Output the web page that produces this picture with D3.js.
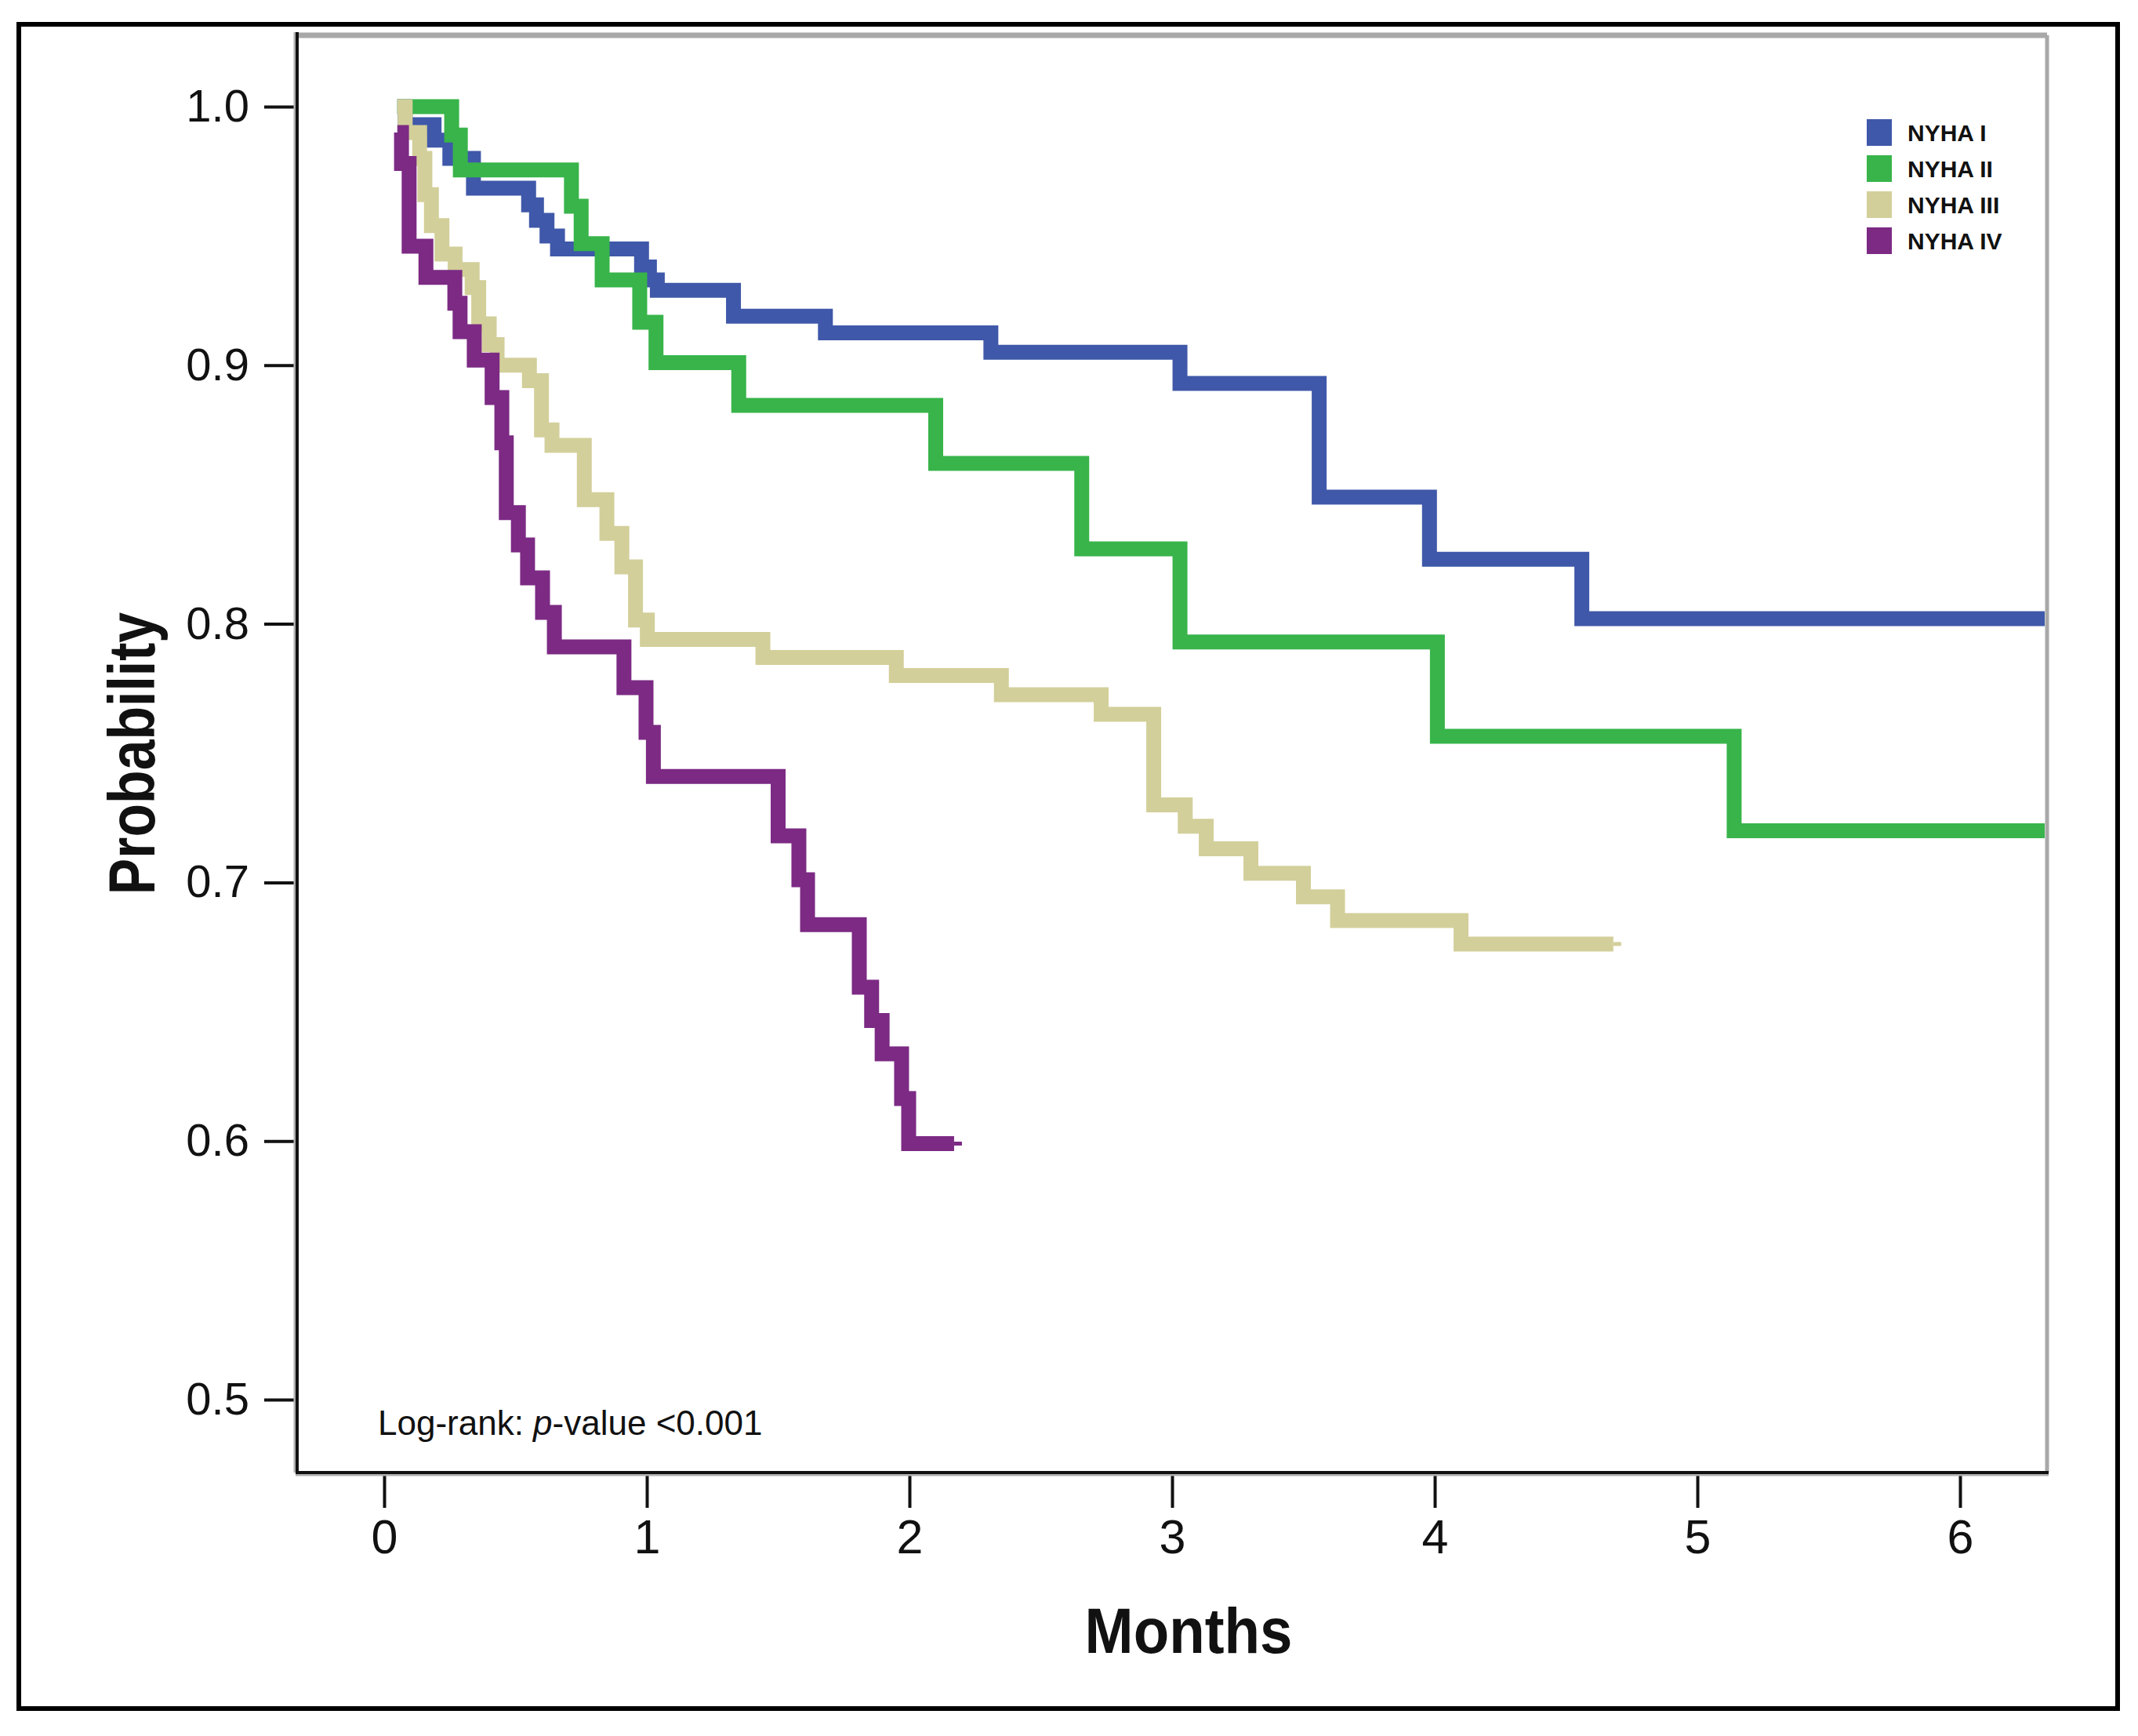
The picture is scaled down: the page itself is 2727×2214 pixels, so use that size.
<!DOCTYPE html>
<html>
<head>
<meta charset="utf-8">
<script src="https://cdn.jsdelivr.net/npm/d3@7"></script>
<style>
  body { margin: 0; background: #fff; }
  text { font-family: "Liberation Sans", Arial, sans-serif; fill: #111; }
</style>
</head>
<body>
<svg id="chart" width="2727" height="2214"></svg>
<script>
// Kaplan-Meier steps: [month, survival probability after the step]
var nyha1 = [[0.05,1.0],[0.08,0.993],[0.19,0.987],[0.25,0.98],[0.34,0.9685],[0.55,0.962],[0.58,0.956],
  [0.62,0.95],[0.66,0.945],[0.98,0.938],[1.01,0.933],[1.04,0.929],[1.33,0.919],[1.68,0.9125],
  [2.31,0.905],[3.03,0.893],[3.56,0.849],[3.98,0.825],[4.56,0.802]];
var nyha2 = [[0.05,1.0],[0.257,0.989],[0.29,0.9755],[0.713,0.9615],[0.75,0.947],[0.83,0.933],
  [0.973,0.9166],[1.035,0.901],[1.35,0.8845],[2.10,0.862],[2.656,0.829],[3.03,0.793],[4.01,0.7565],[5.14,0.72]];
var nyha3 = [[0.05,1.0],[0.08,0.99],[0.135,0.98],[0.155,0.966],[0.18,0.954],[0.22,0.943],[0.27,0.937],
  [0.335,0.93],[0.36,0.916],[0.40,0.908],[0.43,0.9],[0.553,0.894],[0.599,0.875],[0.639,0.869],
  [0.762,0.848],[0.848,0.835],[0.905,0.822],[0.957,0.8015],[1.002,0.794],[1.442,0.787],[1.95,0.78],
  [2.35,0.7726],[2.73,0.765],[2.93,0.73],[3.05,0.7217],[3.13,0.713],[3.30,0.7035],[3.50,0.6944],
  [3.63,0.6853],[4.10,0.6762]];
var nyha4 = [[0.05,0.99],[0.066,0.978],[0.095,0.946],[0.159,0.934],[0.269,0.924],[0.289,0.913],
  [0.343,0.902],[0.411,0.8875],[0.448,0.87],[0.465,0.843],[0.511,0.8305],[0.546,0.8178],[0.603,0.8044],
  [0.648,0.7911],[0.913,0.7753],[0.997,0.758],[1.025,0.741],[1.50,0.718],[1.579,0.701],[1.612,0.6837],
  [1.809,0.6595],[1.856,0.6466],[1.896,0.6337],[1.970,0.6164],[1.997,0.599]];
var lastFollowUp = [6.33, 6.33, 4.68, 2.17];
var groupNames = ['NYHA I', 'NYHA II', 'NYHA III', 'NYHA IV'];
var groupColors = ['#3f58a9', '#38b44a', '#d3cf9a', '#7c2a84'];
var xTicks = [0, 1, 2, 3, 4, 5, 6];
var yTicks = [0.5, 0.6, 0.7, 0.8, 0.9, 1.0];

var svg = d3.select('#chart');

var plotLeft = 379, plotRight = 2611, plotTop = 45, plotBottom = 1878;

var x = d3.scaleLinear().domain([0, 6]).range([490, 2500]);
var y = d3.scaleLinear().domain([0.5, 1.0]).range([1785, 136]);

// outer frame
svg.append('rect')
    .attr('x', 24).attr('y', 31)
    .attr('width', 2677).attr('height', 2148)
    .attr('fill', 'none')
    .attr('stroke', '#000')
    .attr('stroke-width', 6);

// plot frame: grey top / right, black axes
svg.append('line')
    .attr('x1', plotLeft).attr('x2', plotRight)
    .attr('y1', plotTop).attr('y2', plotTop)
    .attr('stroke', '#a8a8a8').attr('stroke-width', 7);
svg.append('line')
    .attr('x1', plotRight).attr('x2', plotRight)
    .attr('y1', plotTop).attr('y2', plotBottom)
    .attr('stroke', '#a8a8a8').attr('stroke-width', 5);

var series = [nyha1, nyha2, nyha3, nyha4];

var line = d3.line()
    .x(function(d){return x(d[0]);})
    .y(function(d){return y(d[1]);})
    .curve(d3.curveStepAfter);

svg.append('defs').append('clipPath')
    .attr('id', 'plotclip')
    .append('rect')
    .attr('x', plotLeft).attr('y', plotTop)
    .attr('width', plotRight - plotLeft - 3).attr('height', plotBottom - plotTop);

svg.append('g')
    .attr('clip-path', 'url(#plotclip)')
    .selectAll('path')
    .data(series)
    .enter().append('path')
    .attr('d', function(d, i){
      var pts = d.concat([[lastFollowUp[i], d[d.length - 1][1]]]);
      return line(pts);
    })
    .attr('fill', 'none')
    .attr('stroke', function(d, i){return groupColors[i];})
    .attr('stroke-width', 19)
    .attr('stroke-linejoin', 'miter')
    .attr('stroke-linecap', 'butt');

// small censor ticks at the ends of the short curves
svg.append('g').selectAll('line')
    .data([2, 3])
    .enter().append('line')
    .attr('x1', function(i){return x(lastFollowUp[i]);})
    .attr('x2', function(i){return x(lastFollowUp[i]) + 10;})
    .attr('y1', function(i){var s = series[i]; return y(s[s.length - 1][1]);})
    .attr('y2', function(i){var s = series[i]; return y(s[s.length - 1][1]);})
    .attr('stroke', function(i){return groupColors[i];})
    .attr('stroke-width', 5);

// axes
var yAxis = d3.axisLeft(y)
    .tickValues(yTicks)
    .tickFormat(d3.format('.1f'))
    .tickSize(42)
    .tickPadding(19);
var gy = svg.append('g')
    .attr('transform', 'translate(' + plotLeft + ',0)')
    .call(yAxis);
gy.select('.domain').remove();
gy.selectAll('.tick line').attr('stroke', '#111').attr('stroke-width', 4);
gy.selectAll('.tick text')
    .attr('font-size', 58)
    .attr('font-family', '"Liberation Sans", Arial, sans-serif')
    .attr('fill', '#111');

var xAxis = d3.axisBottom(x)
    .tickValues(xTicks)
    .tickFormat(d3.format('d'))
    .tickSize(45)
    .tickPadding(15);
var gx = svg.append('g')
    .attr('transform', 'translate(0,' + plotBottom + ')')
    .call(xAxis);
gx.select('.domain').remove();
gx.selectAll('.tick line').attr('stroke', '#111').attr('stroke-width', 4);
gx.selectAll('.tick text')
    .attr('font-size', 61)
    .attr('font-family', '"Liberation Sans", Arial, sans-serif')
    .attr('fill', '#111');

svg.append('line')
    .attr('x1', plotLeft - 3).attr('x2', plotLeft - 3)
    .attr('y1', plotTop - 4).attr('y2', plotBottom)
    .attr('stroke', '#b0b0b0').attr('stroke-width', 3);
svg.append('line')
    .attr('x1', plotLeft).attr('x2', plotLeft)
    .attr('y1', plotTop - 4).attr('y2', plotBottom + 2)
    .attr('stroke', '#111').attr('stroke-width', 4);
svg.append('line')
    .attr('x1', plotLeft - 2).attr('x2', plotRight + 2)
    .attr('y1', plotBottom + 3).attr('y2', plotBottom + 3)
    .attr('stroke', '#b0b0b0').attr('stroke-width', 3);
svg.append('line')
    .attr('x1', plotLeft - 2).attr('x2', plotRight + 2)
    .attr('y1', plotBottom).attr('y2', plotBottom)
    .attr('stroke', '#111').attr('stroke-width', 4);

// axis titles
svg.append('text')
    .attr('transform', 'translate(1516,2108) scale(0.92,1)')
    .attr('text-anchor', 'middle')
    .attr('font-size', 81)
    .attr('font-weight', 'bold')
    .text('Months');

svg.append('text')
    .attr('transform', 'translate(197,961) rotate(-90) scale(0.83,1)')
    .attr('text-anchor', 'middle')
    .attr('font-size', 84)
    .attr('font-weight', 'bold')
    .text('Probability');

// log-rank note
var note = svg.append('text')
    .attr('x', 482).attr('y', 1830)
    .attr('font-size', 44);
note.append('tspan').text('Log-rank: ');
note.append('tspan').attr('font-style', 'italic').text('p');
note.append('tspan').text('-value <0.001');

// legend
var legend = svg.append('g')
    .selectAll('g')
    .data(groupNames)
    .enter().append('g')
    .attr('transform', function(d, i){return 'translate(2381,' + (169 + i * 46) + ')';});

legend.append('rect')
    .attr('x', 0).attr('y', -17)
    .attr('width', 32).attr('height', 34)
    .attr('fill', function(d, i){return groupColors[i];});

legend.append('text')
    .attr('x', 52).attr('y', 11)
    .attr('font-size', 30)
    .attr('font-weight', 'bold')
    .text(function(d){return d;});
</script>
</body>
</html>
